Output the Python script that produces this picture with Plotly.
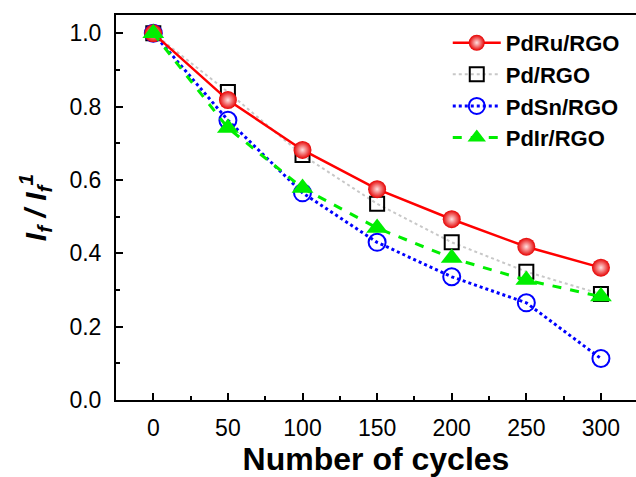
import plotly.graph_objects as go

cycles = [0, 50, 100, 150, 200, 250, 300]
pdru = [1.0, 0.818, 0.682, 0.575, 0.493, 0.418, 0.361]
pd = [1.0, 0.840, 0.668, 0.535, 0.430, 0.350, 0.289]
pdsn = [1.0, 0.763, 0.565, 0.430, 0.336, 0.265, 0.113]
pdir = [1.0, 0.742, 0.578, 0.469, 0.387, 0.327, 0.282]

FONT = "Liberation Sans, Arial, sans-serif"

fig = go.Figure()
fig.add_trace(go.Scatter(
    x=cycles, y=pd, name="Pd/RGO", mode="lines+markers", legendrank=2,
    line=dict(color="#c8c8c8", width=2, dash="dot"),
    marker=dict(symbol="square-open", size=14, color="black", line=dict(width=2, color="black"))))
fig.add_trace(go.Scatter(
    x=cycles, y=pdsn, name="PdSn/RGO", mode="lines+markers", legendrank=3,
    line=dict(color="#0000ff", width=3, dash="dot"),
    marker=dict(symbol="circle-open", size=17, color="#0000ff", line=dict(width=2, color="#0000ff"))))
fig.add_trace(go.Scatter(
    x=cycles, y=pdru, name="PdRu/RGO", mode="lines+markers", legendrank=1,
    line=dict(color="#ff0000", width=2.5),
    marker=dict(symbol="circle", size=18, color="#e60000",
                gradient=dict(type="radial", color="#ffe0e0"), line=dict(width=0))))
fig.add_trace(go.Scatter(
    x=cycles, y=pdir, name="PdIr/RGO", mode="lines+markers", legendrank=4,
    line=dict(color="#00ee00", width=3, dash="dash"),
    marker=dict(symbol="triangle-up", size=19, color="#00ee00", line=dict(width=0))))

fig.update_layout(
    width=636, height=477,
    margin=dict(l=116, r=0, t=15, b=77),
    paper_bgcolor="white", plot_bgcolor="white",
    font=dict(family=FONT, color="black"),
    showlegend=True,
    legend=dict(x=0.638, y=0.982, xanchor="left", yanchor="top",
                font=dict(family=FONT, size=22, color="black", weight="bold"),
                bgcolor="rgba(0,0,0,0)", tracegroupgap=0, itemwidth=48),
)
fig.update_xaxes(
    range=[-25, 323.5], tickmode="array", tickvals=cycles, ticktext=[str(c) for c in cycles],
    showline=True, linecolor="black", linewidth=2, mirror=True,
    ticks="inside", ticklen=7, tickwidth=1.5, tickcolor="black",
    minor=dict(ticks="inside", ticklen=4, tickwidth=1.5, tickcolor="black", dtick=25, tick0=0),
    showgrid=False, zeroline=False,
    tickfont=dict(family=FONT, size=23), ticklabelstandoff=6,
    title=dict(text="<b>Number of cycles</b>", font=dict(family=FONT, size=32), standoff=4),
)
fig.update_yaxes(
    range=[0, 1.05], tickmode="array", tickvals=[0, 0.2, 0.4, 0.6, 0.8, 1.0],
    ticktext=["0.0", "0.2", "0.4", "0.6", "0.8", "1.0"],
    showline=True, linecolor="black", linewidth=2, mirror=False,
    ticks="inside", ticklen=7, tickwidth=1.5, tickcolor="black",
    minor=dict(ticks="inside", ticklen=4, tickwidth=1.5, tickcolor="black", dtick=0.1, tick0=0),
    showgrid=False, zeroline=False,
    tickfont=dict(family=FONT, size=23), ticklabelstandoff=8,
    title=dict(text="<b><i>I<sub>f</sub> / I<sub>f</sub><sup>1</sup></i></b>",
               font=dict(family=FONT, size=30), standoff=14),
)

fig.write_html("out.html")
